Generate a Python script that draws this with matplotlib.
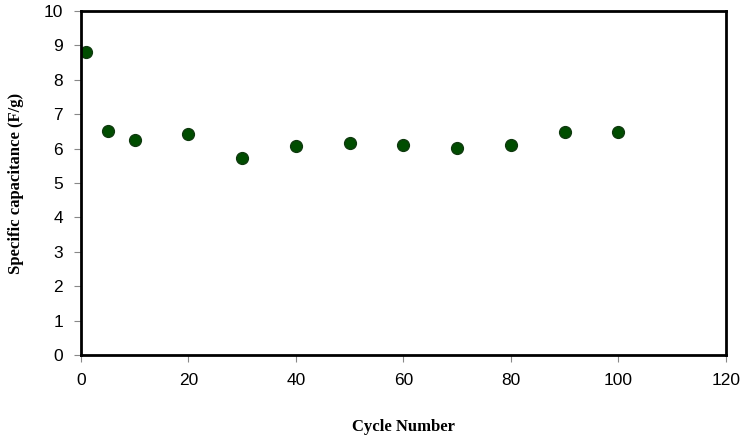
import matplotlib
matplotlib.use("Agg")
import matplotlib.pyplot as plt

cycles = [1, 5, 10, 20, 30, 40, 50, 60, 70, 80, 90, 100]
capacitance = [8.80, 6.52, 6.25, 6.42, 5.74, 6.09, 6.15, 6.11, 6.02, 6.10, 6.47, 6.47]

fig = plt.figure(figsize=(7.45, 4.4), dpi=100)
ax = fig.add_axes([0.1087, 0.193, 0.8658, 0.782])

ax.plot(cycles, capacitance, 'o', markersize=8.5, markerfacecolor='#004d00',
        markeredgecolor='#0f3a0f', markeredgewidth=1.0, linestyle='none')

ax.set_xlim(0, 120)
ax.set_ylim(0, 10)
ax.set_xticks(range(0, 121, 20))
ax.set_yticks(range(0, 11))

for s in ax.spines.values():
    s.set_linewidth(2)
ax.tick_params(direction='out', length=5, width=0.8, color='#888888',
               labelsize=12.5, pad=8)
for lbl in ax.get_xticklabels() + ax.get_yticklabels():
    lbl.set_fontfamily('Liberation Sans')

ax.set_xlabel('Cycle Number', fontfamily='Liberation Serif', fontweight='bold',
              fontsize=12, labelpad=22)
ax.set_ylabel('Specific capacitance (F/g)', fontfamily='Liberation Serif',
              fontweight='bold', fontsize=12, labelpad=14)

fig.savefig('out.png', dpi=100)
